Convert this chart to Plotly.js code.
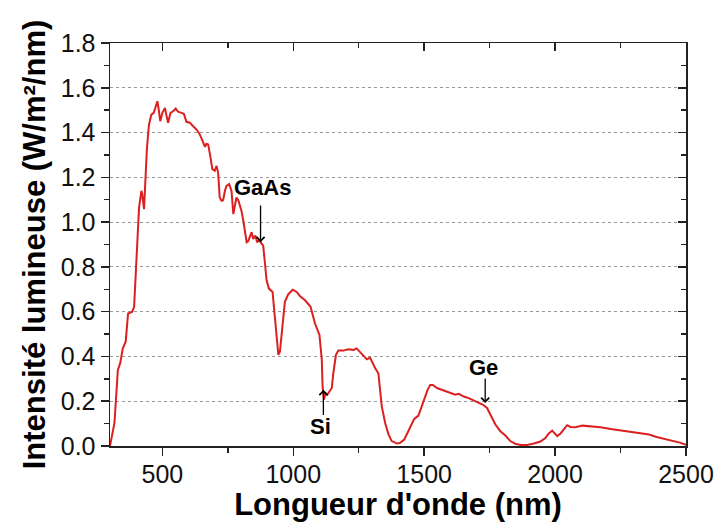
<!DOCTYPE html>
<html>
<head>
<meta charset="utf-8">
<script src="https://cdn.plot.ly/plotly-3.0.1.min.js"></script>
<style>html,body{margin:0;padding:0;background:#fff;}#chart{width:718px;height:522px;}</style>
</head>
<body>
<div id="chart"></div>
<script>
// Wavelength (nm)
const wavelength = [300,317,330,339,349,360,369,384,392,401,411,420,423,430,435,441,449,458,467,475,481,486,492,500,510,515,522,531,541,551,560,573,582,592,605,617,633,643,656,663,668,675,684,691,700,707,713,719,726,732,739,745,755,764,771,777,783,790,802,809,822,828,834,841,847,855,862,870,879,885,892,898,907,921,926,934,943,949,959,968,981,998,1013,1026,1045,1066,1083,1100,1109,1112,1117,1123,1130,1140,1147,1153,1163,1172,1191,1210,1230,1242,1253,1268,1281,1293,1300,1313,1325,1332,1338,1351,1364,1376,1396,1408,1424,1436,1449,1462,1478,1487,1500,1513,1523,1533,1549,1568,1587,1606,1619,1632,1651,1670,1689,1708,1725,1740,1753,1772,1791,1810,1829,1848,1868,1893,1919,1944,1963,1976,1989,1998,2008,2021,2033,2046,2059,2078,2104,2135,2174,2212,2250,2289,2327,2359,2384,2416,2448,2480,2500];
// Spectral irradiance (W/m²/nm)
const irradiance = [0.0,0.103,0.34,0.37,0.436,0.466,0.592,0.599,0.62,0.814,1.066,1.14,1.125,1.058,1.214,1.33,1.436,1.48,1.488,1.518,1.54,1.503,1.451,1.488,1.51,1.48,1.444,1.488,1.495,1.507,1.493,1.488,1.484,1.448,1.444,1.429,1.41,1.392,1.355,1.336,1.35,1.347,1.288,1.236,1.229,1.251,1.221,1.11,1.095,1.098,1.14,1.162,1.17,1.14,1.036,1.073,1.11,1.098,1.051,1.007,0.91,0.915,0.933,0.955,0.925,0.94,0.91,0.92,0.903,0.896,0.814,0.74,0.703,0.688,0.622,0.503,0.407,0.421,0.547,0.644,0.678,0.698,0.688,0.669,0.651,0.622,0.547,0.496,0.384,0.266,0.207,0.236,0.229,0.244,0.259,0.325,0.407,0.426,0.426,0.432,0.429,0.436,0.421,0.4,0.387,0.395,0.377,0.347,0.325,0.236,0.177,0.103,0.051,0.022,0.011,0.014,0.029,0.058,0.088,0.121,0.136,0.165,0.214,0.251,0.273,0.273,0.259,0.251,0.244,0.236,0.229,0.233,0.221,0.214,0.204,0.192,0.184,0.17,0.14,0.096,0.066,0.047,0.022,0.01,0.005,0.005,0.011,0.02,0.036,0.056,0.069,0.056,0.044,0.056,0.076,0.093,0.085,0.084,0.091,0.088,0.084,0.076,0.069,0.062,0.056,0.051,0.041,0.032,0.025,0.014,0.005];

// Annotations: label, text position, arrow head, arrow tail
const labels = ["GaAs", "Si", "Ge"];
const labelX = [881, 1103, 1727];
const labelY = [1.156, 0.089, 0.351];
const headX = [875, 1115, 1733];
const headY = [0.910, 0.251, 0.192];
const tailX = [875, 1115, 1733];
const tailY = [1.081, 0.132, 0.308];

const xTicks = [500, 1000, 1500, 2000, 2500];
const yTicks = [0.0, 0.2, 0.4, 0.6, 0.8, 1.0, 1.2, 1.4, 1.6, 1.8];

const FONT = "Liberation Sans, Arial, sans-serif";

const annotations = [];
for (let i = 0; i < labels.length; i++) {
  annotations.push({
    x: labelX[i], y: labelY[i], xref: 'x', yref: 'y', text: '<b>' + labels[i] + '</b>',
    showarrow: false, font: {family: FONT, size: 22, color: '#000'}, xanchor: 'center', yanchor: 'middle'
  });
  annotations.push({
    x: headX[i], y: headY[i], ax: tailX[i], ay: tailY[i], xref: 'x', yref: 'y', axref: 'x', ayref: 'y',
    text: '', showarrow: true, arrowhead: 4, arrowsize: 1.2, arrowwidth: 1.3, arrowcolor: '#000'
  });
}

const trace = {
  x: wavelength, y: irradiance, type: 'scatter', mode: 'lines',
  line: {color: '#dc1f1f', width: 2}, hoverinfo: 'skip'
};
// invisible companion so the mirrored (top/right) frame axes are drawn
const frameTrace = {
  x: wavelength, y: irradiance, type: 'scatter', mode: 'lines', xaxis: 'x2', yaxis: 'y2',
  line: {color: 'rgba(0,0,0,0)', width: 0}, opacity: 0, hoverinfo: 'skip'
};

const axisCommon = {
  showline: true, linecolor: '#222', linewidth: 1.5, zeroline: false
};

const layout = {
  width: 718, height: 522,
  margin: {l: 110, r: 32, t: 43, b: 76},
  paper_bgcolor: '#fff', plot_bgcolor: '#fff',
  showlegend: false,
  font: {family: FONT, color: '#111'},
  xaxis: Object.assign({}, axisCommon, {
    range: [300, 2500], tickvals: xTicks, ticktext: xTicks.map(String),
    ticks: 'outside', ticklen: 8, tickwidth: 1.5, tickcolor: '#222',
    minor: {dtick: 250, tick0: 0, ticks: 'outside', ticklen: 5, tickwidth: 1.5, tickcolor: '#222', showgrid: false},
    showgrid: false, tickfont: {family: FONT, size: 25, color: '#111'}, ticklabelstandoff: -3,
    title: {text: "<b>Longueur d'onde (nm)</b>", font: {family: FONT, size: 31, color: '#000'}, standoff: 1}
  }),
  yaxis: Object.assign({}, axisCommon, {
    range: [0, 1.8], tickvals: yTicks, ticktext: yTicks.map(v => v.toFixed(1)),
    ticks: 'outside', ticklen: 8, tickwidth: 1.5, tickcolor: '#222',
    minor: {dtick: 0.1, tick0: 0, ticks: 'outside', ticklen: 5, tickwidth: 1.5, tickcolor: '#222', showgrid: false},
    showgrid: true, gridcolor: '#999', gridwidth: 1, griddash: 'dot',
    tickfont: {family: FONT, size: 25, color: '#111'},
    title: {text: "<b>Intensité lumineuse (W/m²/nm)</b>", font: {family: FONT, size: 31, color: '#000'}, standoff: 6}
  }),
  xaxis2: Object.assign({}, axisCommon, {
    overlaying: 'x', side: 'top', anchor: 'y2', range: [300, 2500], tickvals: xTicks,
    ticks: 'inside', ticklen: 8, tickwidth: 1.5, tickcolor: '#222', showticklabels: false, showgrid: false,
    minor: {dtick: 250, tick0: 0, ticks: 'inside', ticklen: 5, tickwidth: 1.5, tickcolor: '#222', showgrid: false}
  }),
  yaxis2: Object.assign({}, axisCommon, {
    overlaying: 'y', side: 'right', anchor: 'x2', range: [0, 1.8], tickvals: yTicks,
    ticks: 'inside', ticklen: 8, tickwidth: 1.5, tickcolor: '#222', showticklabels: false, showgrid: false,
    minor: {dtick: 0.1, tick0: 0, ticks: 'inside', ticklen: 5, tickwidth: 1.5, tickcolor: '#222', showgrid: false}
  }),
  annotations: annotations
};

Plotly.newPlot('chart', [trace, frameTrace], layout, {staticPlot: true, displayModeBar: false});
</script>
</body>
</html>
